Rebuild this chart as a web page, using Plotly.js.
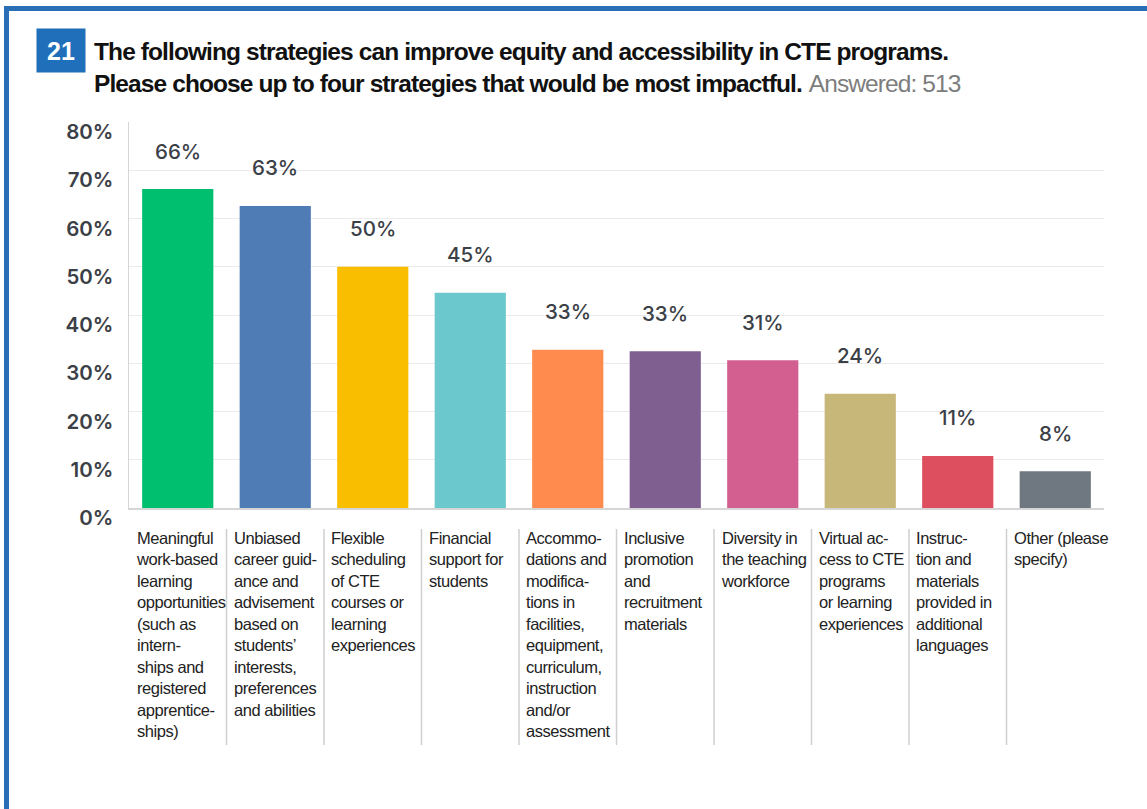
<!DOCTYPE html>
<html>
<head>
<meta charset="utf-8">
<script src="https://cdn.plot.ly/plotly-3.0.1.min.js"></script>
<style>
  html, body { margin: 0; padding: 0; background: #ffffff; }
  #chart { width: 1147px; height: 809px; }
</style>
</head>
<body>
<div id="chart"></div>
<script>
// ---- data ----
const categories = [
  "Meaningful<br>work-based<br>learning<br>opportunities<br>(such as<br>intern-<br>ships and<br>registered<br>apprentice-<br>ships)",
  "Unbiased<br>career guid-<br>ance and<br>advisement<br>based on<br>students’<br>interests,<br>preferences<br>and abilities",
  "Flexible<br>scheduling<br>of CTE<br>courses or<br>learning<br>experiences",
  "Financial<br>support for<br>students",
  "Accommo-<br>dations and<br>modifica-<br>tions in<br>facilities,<br>equipment,<br>curriculum,<br>instruction<br>and/or<br>assessment",
  "Inclusive<br>promotion<br>and<br>recruitment<br>materials",
  "Diversity in<br>the teaching<br>workforce",
  "Virtual ac-<br>cess to CTE<br>programs<br>or learning<br>experiences",
  "Instruc-<br>tion and<br>materials<br>provided in<br>additional<br>languages",
  "Other (please<br>specify)"
];
const values = [66.1, 62.6, 50.0, 44.6, 32.8, 32.5, 30.6, 23.7, 10.8, 7.6];
const barColors = ["#00bf6f", "#507cb6", "#f9be00", "#6bc8cd", "#ff8b4f",
                   "#7f5f90", "#d25f90", "#c7b879", "#dd4f5f", "#6f7780"];
const yTicks = [0, 10, 20, 30, 40, 50, 60, 70, 80];
const questionNumber = "21";
const titleLine1 = "The following strategies can improve equity and accessibility in CTE programs.";
const titleLine2 = "Please choose up to four strategies that would be most impactful.";
const answeredText = "Answered: 513";

// ---- layout helpers (pixel -> paper) ----
const W = 1147, H = 809;
const M = { l: 129, r: 43, t: 122, b: 301 };
const PW = W - M.l - M.r, PH = H - M.t - M.b;
const px = x => (x - M.l) / PW;
const py = y => (H - M.b - y) / PH;

const narrowFont = "'Liberation Sans', Arial, sans-serif";
const numFont = "Inter, 'Open Sans', sans-serif";
const tight = (s, ls) => s.split("<br>").map(l => "<span style='letter-spacing:" + ls + "px'>" + l + "</span>").join("<br>");

const xIdx = categories.map((c, i) => i);

const trace = {
  type: "bar",
  x: xIdx,
  y: values,
  marker: { color: barColors, line: { width: 0 } },
  hoverinfo: "skip"
};

const annotations = [];
// value labels
values.forEach((v, i) => {
  annotations.push({
    xref: "x", yref: "y", x: i, y: v,
    text: Math.round(v) + "%",
    showarrow: false, yanchor: "middle", xanchor: "center", yshift: 38,
    font: { family: numFont, size: 20.5, color: "#3b4047", weight: 500 }
  });
});
// category labels
categories.forEach((c, i) => {
  annotations.push({
    xref: "x", yref: "y", x: i - 0.5, y: 0,
    text: tight(c, -0.45), showarrow: false, align: "left", xanchor: "left", yanchor: "top",
    xshift: 5, yshift: -19,
    font: { family: narrowFont, size: 16.5, color: "#222222" }
  });
});
// question number box
annotations.push({
  xref: "paper", yref: "paper", x: px(61), y: py(50.5),
  text: "<b>" + questionNumber + "</b>", showarrow: false,
  xanchor: "center", yanchor: "middle", width: 46, height: 41,
  bgcolor: "#1f6fba",
  font: { family: "'Liberation Sans', Arial, sans-serif", size: 25, color: "#ffffff" }
});
// title
annotations.push({
  xref: "paper", yref: "paper", x: px(92), y: py(67.5),
  text: "<b><span style='letter-spacing:-0.9px'>" + titleLine1 + "</span></b><br>" +
        "<b><span style='letter-spacing:-0.9px'>" + titleLine2 + "</span></b> " +
        "<span style='color:#7d7d7d;letter-spacing:-0.9px'>" + answeredText + "</span>",
  showarrow: false, xanchor: "left", yanchor: "middle", align: "left",
  font: { family: narrowFont, size: 24.5, color: "#111111" }
});

const shapes = [];
// separators between category labels
for (let i = 1; i < categories.length; i++) {
  shapes.push({
    type: "line", xref: "x", yref: "paper",
    x0: i - 0.5, x1: i - 0.5, y0: py(529), y1: py(745),
    line: { color: "#cfcfcf", width: 1.5 }
  });
}
// blue frame (top and left)
shapes.push({
  type: "rect", xref: "paper", yref: "paper",
  x0: px(4), x1: px(1147), y0: py(6), y1: py(11),
  fillcolor: "#2a6fb6", line: { width: 0 }
});
shapes.push({
  type: "rect", xref: "paper", yref: "paper",
  x0: px(4), x1: px(9), y0: py(6), y1: py(809),
  fillcolor: "#2a6fb6", line: { width: 0 }
});

const layout = {
  width: W, height: H,
  margin: M,
  paper_bgcolor: "#ffffff", plot_bgcolor: "#ffffff",
  showlegend: false,
  bargap: 0.27,
  xaxis: {
    type: "linear",
    range: [-0.5, categories.length - 0.5],
    showticklabels: false, showgrid: false, zeroline: false,
    showline: true, linecolor: "#d6d6d6", linewidth: 2,
    fixedrange: true
  },
  yaxis: {
    range: [0, 80],
    tickvals: yTicks,
    ticktext: yTicks.map(t => t + "%"),
    showgrid: true, gridcolor: "#ebebeb", gridwidth: 1,
    zeroline: false,
    showline: true, linecolor: "#d6d6d6", linewidth: 1.5,
    ticks: "", ticklabelstandoff: 10, ticklabelshift: 10,
    tickfont: { family: numFont, size: 20.5, color: "#3b4047", weight: 600 },
    fixedrange: true
  },
  annotations: annotations,
  shapes: shapes
};

Plotly.newPlot("chart", [trace], layout, { displayModeBar: false, staticPlot: true });
</script>
</body>
</html>
